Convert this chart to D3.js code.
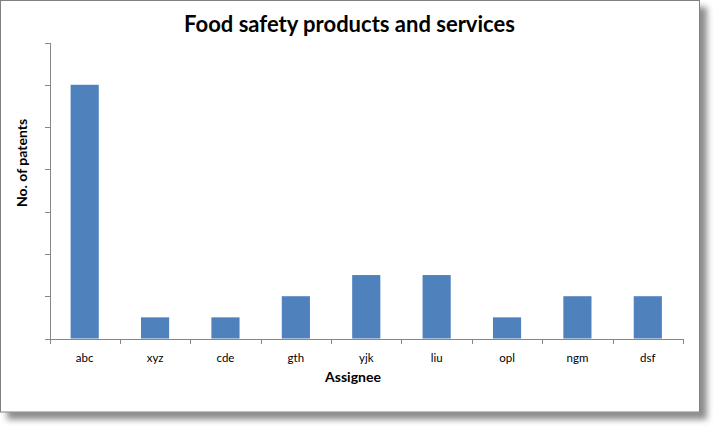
<!DOCTYPE html>
<html>
<head>
<meta charset="utf-8">
<script src="https://cdn.jsdelivr.net/npm/d3@7"></script>
<style>
  html, body { margin: 0; padding: 0; background: #fff; }
  svg { display: block; }
  text { font-family: Lato, "Open Sans", sans-serif; }
</style>
</head>
<body>
<div id="chart"></div>
<script>
/*------------------- Data --------------------*/
const assignees = ["abc", "xyz", "cde", "gth", "yjk", "liu", "opl", "ngm", "dsf"];
const patents = [12, 1, 1, 2, 3, 3, 1, 2, 2];
const yTicks = [0, 2, 4, 6, 8, 10, 12, 14];

/*------------------- Layout --------------------*/
const width = 716, height = 429;
const plot = { left: 49.5, right: 683, top: 42.5, bottom: 338.5 };
const axisColor = "#868686";

const svg = d3.select("#chart").append("svg")
    .attr("width", width)
    .attr("height", height);

// drop shadow for the chart frame
const filter = svg.append("defs").append("filter")
    .attr("id", "shadow")
    .attr("x", "-5%").attr("y", "-5%")
    .attr("width", "115%").attr("height", "120%");
filter.append("feDropShadow")
    .attr("dx", 7).attr("dy", 7)
    .attr("stdDeviation", 3)
    .attr("flood-color", "#000")
    .attr("flood-opacity", 0.45);

svg.append("rect")
    .attr("x", 0.5).attr("y", 0.5)
    .attr("width", 699).attr("height", 411.5)
    .attr("fill", "#fff")
    .attr("stroke", "#808080")
    .attr("stroke-width", 1)
    .attr("filter", "url(#shadow)");

/*------------------- Scales --------------------*/
const x = d3.scaleBand()
    .domain(assignees)
    .range([plot.left, plot.right])
    .paddingInner(0.6)
    .paddingOuter(0.3);

const xEdge = d3.scaleLinear()
    .domain([0, assignees.length])
    .range([plot.left, plot.right]);

const y = d3.scaleLinear()
    .domain([0, 14])
    .range([plot.bottom, plot.top]);

/*------------------- Bars --------------------*/
svg.append("g")
    .selectAll("rect")
    .data(assignees)
    .join("rect")
    .attr("x", d => x(d))
    .attr("width", x.bandwidth())
    .attr("y", (d, i) => y(patents[i]))
    .attr("height", (d, i) => y(0) - y(patents[i]))
    .attr("fill", "#4F81BD");

/*------------------- Axes --------------------*/
const yAxis = svg.append("g")
    .attr("transform", `translate(${plot.left},0)`)
    .call(d3.axisLeft(y).tickValues(yTicks).tickFormat("").tickSizeInner(5).tickSizeOuter(0));

const xTicks = svg.append("g")
    .attr("transform", `translate(0,${plot.bottom})`)
    .call(d3.axisBottom(xEdge).tickValues(d3.range(0, assignees.length + 1)).tickFormat("").tickSizeInner(5).tickSizeOuter(0));

const xLabels = svg.append("g")
    .attr("transform", `translate(0,${plot.bottom})`)
    .call(d3.axisBottom(x).tickSize(0).tickPadding(15));
xLabels.select(".domain").remove();
xLabels.selectAll("text")
    .attr("font-family", "Lato, sans-serif")
    .attr("font-size", 11.5)
    .attr("fill", "#000");

[yAxis, xTicks].forEach(g => {
    g.selectAll(".domain, line").attr("stroke", axisColor).attr("shape-rendering", "crispEdges");
});

/*------------------- Titles --------------------*/
svg.append("text")
    .attr("x", 349.5)
    .attr("y", 32)
    .attr("text-anchor", "middle")
    .attr("font-size", 22)
    .attr("font-weight", "bold")
    .attr("fill", "#000")
    .text("Food safety products and services");

svg.append("text")
    .attr("x", 353)
    .attr("y", 382)
    .attr("text-anchor", "middle")
    .attr("font-size", 14)
    .attr("font-weight", "bold")
    .attr("fill", "#000")
    .text("Assignee");

svg.append("text")
    .attr("transform", "translate(27,163) rotate(-90)")
    .attr("text-anchor", "middle")
    .attr("font-size", 14)
    .attr("font-weight", "bold")
    .attr("fill", "#000")
    .text("No. of patents");
</script>
</body>
</html>
